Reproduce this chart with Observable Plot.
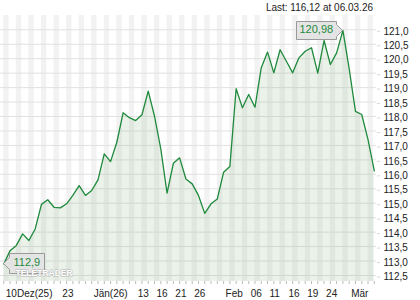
<!DOCTYPE html>
<html><head><meta charset="utf-8">
<script src="https://cdn.jsdelivr.net/npm/d3@7"></script>
<script src="https://cdn.jsdelivr.net/npm/@observablehq/plot@0.6"></script>
<style>
body{margin:0;background:#fff;font-family:"Liberation Sans",Arial,sans-serif;}
#hdr{height:15px;width:420px;position:relative;font-size:10px;color:#222;}
#hdr span{position:absolute;right:47px;top:2px;white-space:nowrap;}
g[aria-label="tip"] text, g[aria-label="tip"] tspan{fill:#1f8a3c;}
</style></head><body>
<div id="hdr"><span id="last"></span></div>
<div id="chart"></div>
<script>
// closing prices, one per trading day (10 Dec 2025 .. 06 Mar 2026)
const values = [
  112.90, 113.36, 113.54, 113.94, 113.71, 114.11, 114.96, 115.12, 114.86, 114.84,
  114.98, 115.27, 115.61, 115.27, 115.44, 115.81, 116.71, 116.44, 117.11, 118.13,
  117.96, 117.86, 118.06, 118.88, 118.01, 116.88, 115.35, 116.38, 116.57, 115.84,
  115.67, 115.27, 114.65, 114.98, 115.15, 116.07, 116.27, 118.96, 118.30, 118.76,
  118.32, 119.69, 120.23, 119.51, 120.31, 119.91, 119.51, 120.03, 120.26, 120.38,
  119.50, 120.63, 119.80, 120.20, 120.98, 119.65, 118.18, 118.07, 117.20, 116.12
];
// x tick labels (trading-day index -> label)
const xTickIdx    = [0, 9, 14, 21, 24, 27, 30, 35, 39, 42, 45, 48, 51, 55];
const xTickLabels = ["10Dez(25)", "23", "Jän(26)", "13", "16", "21", "26", "Feb", "06", "11", "16", "19", "24", "Mär"];
// y ticks
const yTicks = [112.5, 113, 113.5, 114, 114.5, 115, 115.5, 116, 116.5, 117, 117.5, 118, 118.5, 119, 119.5, 120, 120.5, 121];
// callouts
const calloutIdx    = [0, 54];
const calloutLabels = ["112,9", "120,98"];
const lastText = "Last: 116,12 at 06.03.26";
const watermark = "TELETRADER";

document.getElementById("last").textContent = lastText;

const yDomain = [112.292, 121.495];
const xDomain = [-0.525, 59.35];
const idx = values.map((d, i) => i);
const labelMap = new Map(xTickIdx.map((t, k) => [t, xTickLabels[k]]));
const stripes = idx.filter(i => i % 2 === 0);
const pts = values.map((v, i) => ({i, v}));
const callouts = calloutIdx.map((i, k) => ({i, v: values[i], label: calloutLabels[k]}));

const chart = Plot.plot({
  width: 420,
  height: 285,
  marginTop: 0,
  marginBottom: 19,
  marginLeft: 0,
  marginRight: 44,
  style: {fontFamily: '"Liberation Sans", Arial, sans-serif', fontSize: "10px", color: "#222", background: "#fff"},
  x: {type: "linear", domain: xDomain},
  y: {domain: yDomain},
  marks: [
    Plot.rect(stripes, {x1: d => d, x2: d => d + 0.85, fill: "#f2f2f2"}),
    Plot.ruleY(yTicks, {stroke: "#e1e1e1", strokeWidth: 1}),
    Plot.areaY(pts, {x: "i", y1: () => yDomain[0], y2: "v", fill: "#7fb07f", fillOpacity: 0.16}),
    Plot.line(pts, {x: "i", y: "v", stroke: "#1f8a3c", strokeWidth: 1.3}),
    Plot.axisY({anchor: "right", ticks: yTicks, tickSize: 3, tickPadding: 4, stroke: "#d8d8d8", fill: "#222",
      tickFormat: d => d.toFixed(1).replace(".", ","), dy: 1.5, label: null}),
    Plot.axisX({ticks: idx, tickSize: 3, tickFormat: () => null, stroke: "#bbb", label: null}),
    Plot.axisX({ticks: xTickIdx, tickSize: 0, tickPadding: 8, fill: "#222", textAnchor: "start", dx: 2,
      tickFormat: i => labelMap.get(i), label: null}),
    Plot.tip(callouts.filter(d => d.i === 0), {x: "i", y: "v", title: "label", anchor: "left",
      fill: "#e4e4e4", stroke: "#9a9a9a", fontSize: 11, textPadding: 4, pointerSize: 12, pathFilter: "none"}),
    Plot.tip(callouts.filter(d => d.i !== 0), {x: "i", y: "v", title: "label", anchor: "right",
      fill: "#e4e4e4", stroke: "#9a9a9a", fontSize: 11, textPadding: 3, pointerSize: 12, pathFilter: "none"}),
    Plot.text([watermark], {frameAnchor: "bottom-left", dx: 15, dy: -6, fontSize: 8.5, fontWeight: "bold",
      fill: "#fff", stroke: "#b0b0b0", strokeWidth: 0.8, textAnchor: "start"})
  ]
});
document.getElementById("chart").appendChild(chart);
</script>
</body></html>
